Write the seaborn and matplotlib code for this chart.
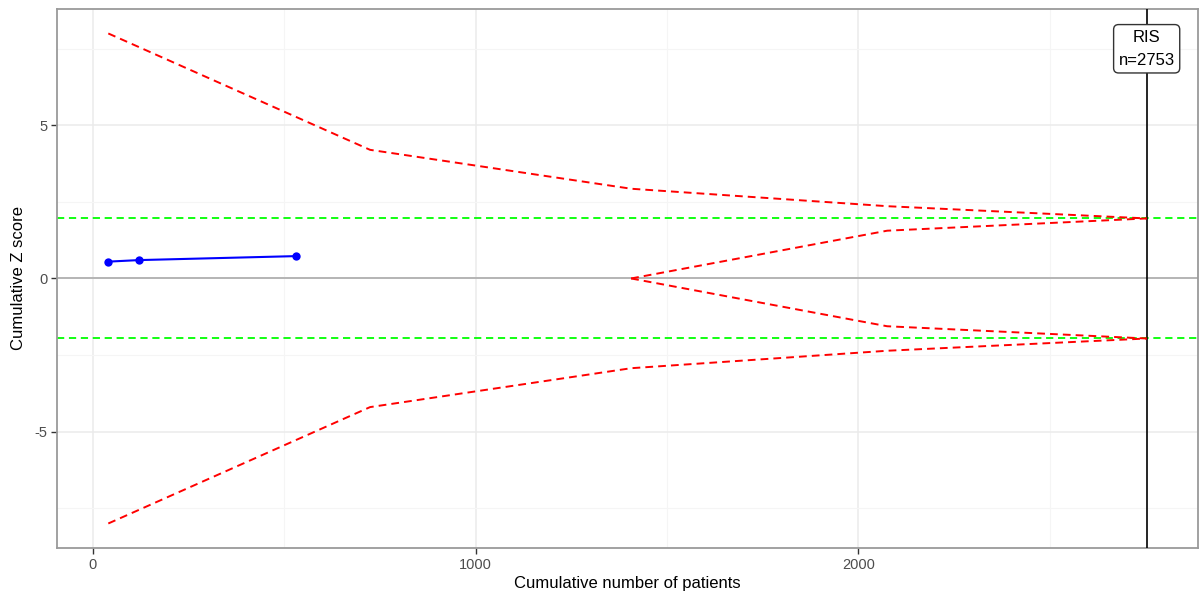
import numpy as np
import pandas as pd
import matplotlib
matplotlib.use("Agg")
import matplotlib.pyplot as plt
import seaborn as sns

# ---- data ----
trial_n = [40, 120, 530]
trial_z = [0.55, 0.60, 0.73]

boundary_n = [40, 724, 1406, 2075, 2753]
upper_boundary = [8.0, 4.2, 2.93, 2.36, 1.96]
lower_boundary = [-8.0, -4.2, -2.93, -2.36, -1.96]

futility_n = [1406, 2075, 2753]
futility_upper = [0.0, 1.56, 1.96]
futility_lower = [0.0, -1.56, -1.96]

conventional_z = [1.96, -1.96]
ris_n = 2753
ris_label = "RIS\nn=2753"

x_ticks = [0, 1000, 2000]
y_ticks = [-5, 0, 5]

# ---- style ----
sns.set_theme(style="white")
plt.rcParams['font.family'] = ['Liberation Sans', 'DejaVu Sans']

fig = plt.figure(figsize=(12, 5.97), dpi=100)
ax = fig.add_axes([0.0475, 0.0821, 0.9508, 0.9029])

ax.set_xlim(-94, 2887)
ax.set_ylim(-8.8, 8.8)

# grid (ggplot theme_bw-like)
for xv in [0, 1000, 2000]:
    ax.axvline(xv, color="#ebebeb", lw=1.1, zorder=0)
for xv in [500, 1500, 2500]:
    ax.axvline(xv, color="#f5f5f5", lw=0.8, zorder=0)
for yv in [-5, 0, 5]:
    ax.axhline(yv, color="#ebebeb", lw=1.1, zorder=0)
for yv in [-7.5, -2.5, 2.5, 7.5]:
    ax.axhline(yv, color="#f5f5f5", lw=0.8, zorder=0)

dash = (0, (4, 2.6))
# zero line
ax.axhline(0, color="#b5b5b5", lw=1.4, zorder=1)
# conventional boundaries
for z in conventional_z:
    ax.axhline(z, color="#00ff00", lw=1.3, ls=dash, zorder=2)
# RIS vertical line
ax.axvline(ris_n, color="black", lw=1.2, zorder=3)

sns.lineplot(x=boundary_n, y=upper_boundary, ax=ax, color="#ff0000", lw=1.4,
             zorder=4, estimator=None)
sns.lineplot(x=boundary_n, y=lower_boundary, ax=ax, color="#ff0000", lw=1.4,
             zorder=4, estimator=None)
sns.lineplot(x=futility_n, y=futility_upper, ax=ax, color="#ff0000", lw=1.4,
             zorder=4, estimator=None)
sns.lineplot(x=futility_n, y=futility_lower, ax=ax, color="#ff0000", lw=1.4,
             zorder=4, estimator=None)
for ln in ax.get_lines()[-4:]:
    ln.set_linestyle(dash)

sns.lineplot(x=trial_n, y=trial_z, ax=ax, color="#0000ff", lw=1.5,
             marker="o", markersize=6, markeredgewidth=0, zorder=5, estimator=None)

ax.text(ris_n, 7.5, ris_label, ha="center", va="center", fontsize=12,
        linespacing=1.7, color="black", zorder=6,
        bbox=dict(boxstyle="round,pad=0.3,rounding_size=0.3", fc="white", ec="#333333", lw=1))

ax.set_xticks(x_ticks)
ax.set_yticks(y_ticks)
ax.set_xticklabels([str(v) for v in x_ticks])
ax.set_yticklabels([str(v) for v in y_ticks])
ax.tick_params(axis="both", which="both", length=4, width=1, color="#333333",
               labelsize=10.5, labelcolor="#4d4d4d", pad=3, bottom=True, left=True)

for sp in ax.spines.values():
    sp.set_visible(True)
    sp.set_color("#9a9a9a")
    sp.set_linewidth(1.3)

ax.set_xlabel("Cumulative number of patients", fontsize=12, color="black", labelpad=3)
ax.set_ylabel("Cumulative Z score", fontsize=12, color="black", labelpad=6)

fig.savefig("out.png", dpi=100)
